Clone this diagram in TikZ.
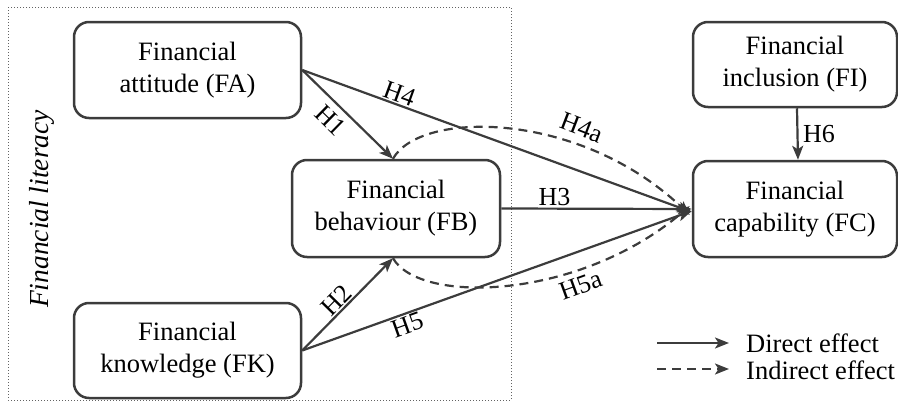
\documentclass[tikz,border=0pt]{standalone}
\usepackage{fontspec}
\setmainfont{Liberation Serif}
\usetikzlibrary{arrows.meta}
\definecolor{ink}{HTML}{3C3C3C}
\tikzset{
  box/.style={draw=ink, line width=2.5pt, rounded corners=15pt, align=center, inner sep=0pt,
    font=\fontsize{26.5}{32}\selectfont},
  conn/.style={draw=ink, line width=2.2pt, -{Stealth[length=14pt,width=11pt,inset=3.5pt]}},
  ind/.style={conn, dash pattern=on 9pt off 6pt},
  lab/.style={font=\fontsize{26}{30}\selectfont, inner sep=1.5pt},
  frame/.style={draw=ink!80, line width=1pt, dotted}
}
\begin{document}
\begin{tikzpicture}[x=1pt,y=-1pt]
\useasboundingbox (0,0) rectangle (898,410);
\draw[frame] (8,7) rectangle (511,400);
\node[box, minimum width=227pt, minimum height=96pt] (FA) at (187.5,70) {Financial\\attitude (FA)};
\node[box, minimum width=208pt, minimum height=97pt] (FB) at (396,208.5) {Financial\\behaviour (FB)};
\node[box, minimum width=227pt, minimum height=95pt] (FK) at (187.5,350.5) {Financial\\knowledge (FK)};
\node[box, minimum width=204pt, minimum height=85pt] (FI) at (795,64.5) {Financial\\inclusion (FI)};
\node[box, minimum width=204pt, minimum height=96pt] (FC) at (795,209) {Financial\\capability (FC)};
\node[font=\itshape\fontsize{27.5}{32}\selectfont, rotate=90] (FL) at (42,209) {Financial literacy};
% direct effects
\draw[conn] (FA.east) -- node[lab, pos=0.44, sloped, below, yshift=-5pt] {H1} ([xshift=-3pt]FB.north);
\draw[conn] (FA.east) -- node[lab, pos=0.24, sloped, above] {H4} ([yshift=-3pt]FC.west);
\draw[conn] (FB.east) -- node[lab, pos=0.28, above] {H3} (FC.west);
\draw[conn] (FK.east) -- node[lab, pos=0.46, sloped, above] {H2} ([xshift=-3pt]FB.south);
\draw[conn] (FK.east) -- node[lab, pos=0.26, sloped, below] {H5} ([yshift=-2pt]FC.west);
\draw[conn] ([xshift=2pt]FI.south) -- node[lab, right, pos=0.5, xshift=3pt] {H6} ([xshift=3pt]FC.north);
% indirect effects
\draw[ind] ([xshift=-3pt]FB.north) .. controls (420,110) and (580,110) .. ([yshift=-6pt,xshift=-2pt]FC.west)
  node[lab, pos=0.68, rotate=-21, anchor=south, yshift=7pt] {H4a};
\draw[ind] ([xshift=-3pt]FB.south) .. controls (420,305) and (580,300) .. ([yshift=3pt,xshift=-2pt]FC.west)
  node[lab, pos=0.68, rotate=20, anchor=north, yshift=-5pt] {H5a};
% legend
\coordinate (l1a) at (657,343); \coordinate (l1b) at (729,343);
\coordinate (l2a) at (657,369); \coordinate (l2b) at (729,369);
\draw[conn, line width=1.8pt] (l1a) -- (l1b);
\draw[ind, line width=1.8pt] (l2a) -- (l2b);
\node[anchor=west, inner sep=0pt, font=\fontsize{26.5}{31}\selectfont] (d1) at (746,343) {Direct effect};
\node[anchor=west, inner sep=0pt, font=\fontsize{26.5}{31}\selectfont] (d2) at (746,370) {Indirect effect};
\end{tikzpicture}
\end{document}
